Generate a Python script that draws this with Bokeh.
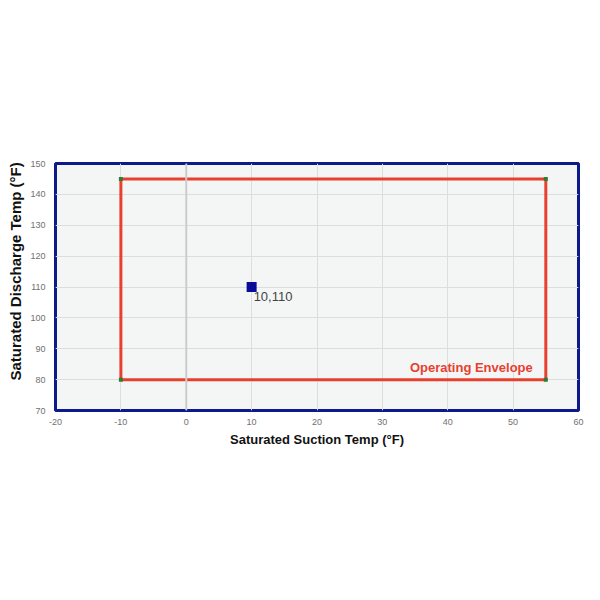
from bokeh.plotting import figure
from bokeh.models import Span, Range1d, FixedTicker, Title
from bokeh.embed import file_html
from bokeh.resources import INLINE
from bokeh.core.properties import value

env_x = [-10, 55, 55, -10, -10]
env_y = [80, 80, 145, 145, 80]
corner_x = [-10, 55, 55, -10]
corner_y = [80, 80, 145, 145]
pt_x = [10]
pt_y = [110]
pt_label = ["10,110"]
x_ticks = [-20, -10, 0, 10, 20, 30, 40, 50, 60]
y_ticks = [70, 80, 90, 100, 110, 120, 130, 140, 150]
env_label = "Operating Envelope"
x_title = "Saturated Suction Temp (°F)"
y_title = "Saturated Discharge Temp (°F)"

p = figure(width=600, height=600, output_backend="svg", toolbar_location=None,
           x_range=Range1d(-20, 60), y_range=Range1d(70, 150),
           min_border_left=55, min_border_right=22, min_border_top=163, min_border_bottom=190)
p.background_fill_color = "#f4f6f6"
p.border_fill_color = "white"
p.outline_line_color = "#0d1a8c"
p.outline_line_width = 3
p.outline_line_alpha = 1

for ax in (p.xaxis, p.yaxis):
    ax.axis_line_color = None
    ax.major_tick_line_color = None
    ax.minor_tick_line_color = None
    ax.major_label_text_color = "#707070"
    ax.major_label_text_font_size = "9px"
    ax.major_label_text_font = "Liberation Sans"
    ax.axis_label_text_font = "Liberation Sans"
    ax.axis_label_text_font_size = "13px"
    ax.axis_label_text_font_style = "bold"
    ax.axis_label_text_color = "#111111"
p.xaxis.ticker = FixedTicker(ticks=x_ticks)
p.yaxis.ticker = FixedTicker(ticks=y_ticks)
p.xaxis.major_label_overrides = {t: str(t) for t in x_ticks}
p.xaxis.axis_label = x_title
p.xaxis.major_label_standoff = 2
p.yaxis.major_label_standoff = 4
p.xaxis.axis_label_standoff = 4
p.grid.grid_line_color = "#dddddd"
p.grid.grid_line_width = 1

p.add_layout(Title(text=y_title, align="left", offset=30, standoff=7,
                   text_font="Liberation Sans", text_font_size="15px",
                   text_font_style="bold", text_color="#111111"), "left")

p.add_layout(Span(location=0, dimension="height", line_color="#cccccc", line_width=2))

p.line(env_x, env_y, line_color="#e8402f", line_width=3)
p.scatter(corner_x, corner_y, marker="square", size=4, fill_color="#2e7d32", line_color=None)
p.scatter(pt_x, pt_y, marker="square", size=10, fill_color="#0b0b9a", line_color=None)
p.text(pt_x, pt_y, text=pt_label, x_offset=2, y_offset=5, text_baseline="top",
       text_font=value("Liberation Sans"), text_font_size="13px", text_color="#444444")
p.text([53], [84], text=[env_label], text_align="right", text_baseline="middle",
       text_font=value("Liberation Sans"), text_font_size="13px", text_font_style="bold",
       text_color="#e8402f")

open("out.html", "w").write(file_html(p, INLINE))
